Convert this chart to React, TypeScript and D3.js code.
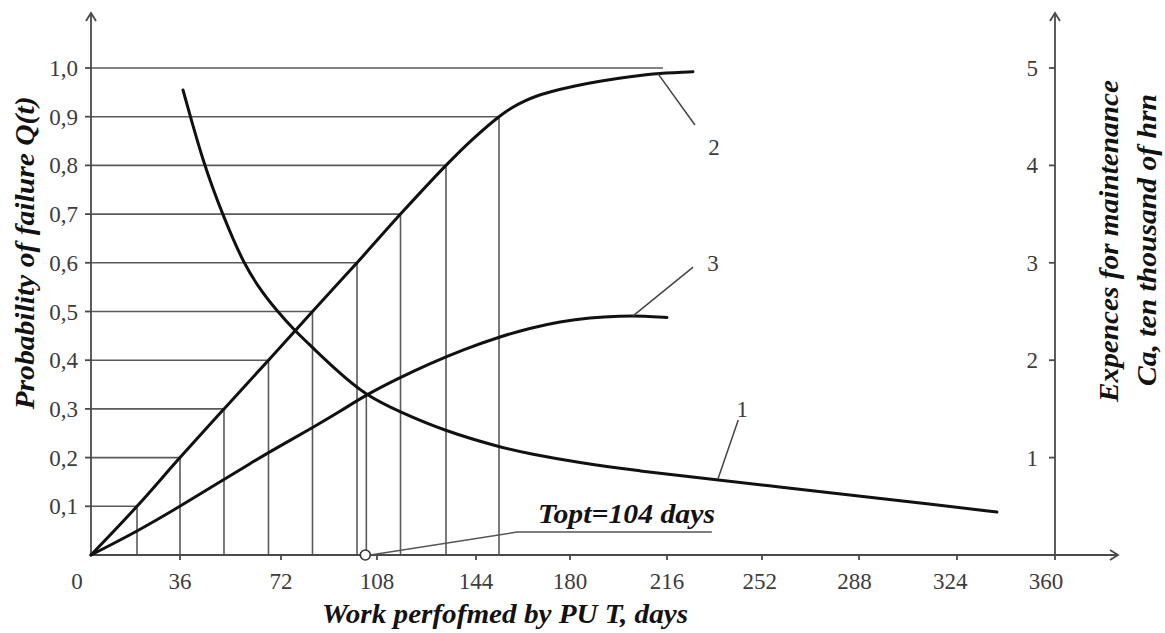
import React from "react";
import * as d3 from "d3";

const WIDTH = 1165;
const HEIGHT = 633;

// axis ticks
const dayTicks = [0, 36, 72, 108, 144, 180, 216, 252, 288, 324, 360];
const qTicks = [0.1, 0.2, 0.3, 0.4, 0.5, 0.6, 0.7, 0.8, 0.9, 1.0];
const costTicks = [1, 2, 3, 4, 5];

// curve 2 - probability of failure Q(t)
const q2Days = [0, 18.61, 36, 51.68, 67.54, 83.81, 100.5, 116.55, 133.09, 142.55, 152.81, 157.79, 162.77, 167.36, 172.34, 181.86, 191.13, 202.27, 213.4, 225.85];
const q2Vals = [0, 0.1, 0.2, 0.3, 0.4, 0.5, 0.6, 0.7, 0.8, 0.8524, 0.9, 0.9183, 0.9324, 0.9425, 0.9507, 0.963, 0.9727, 0.9819, 0.9885, 0.9922];

// curve 3
const q3Days = [0, 19.01, 35.6, 48.48, 60.95, 71.64, 83.63, 94.13, 103.5, 115.27, 127.27, 140.0, 152.81, 164.68, 176.17, 187.42, 198.56, 207.83, 216];
const q3Vals = [0, 0.0493, 0.0986, 0.1437, 0.1879, 0.2238, 0.2608, 0.2947, 0.3275, 0.3614, 0.3932, 0.423, 0.4476, 0.4661, 0.4795, 0.4877, 0.4908, 0.4908, 0.4877];

// curve 1 - expences for maintenance, ten thousand hrn
const c1Days = [37.07, 40.63, 44.2, 47.76, 51.33, 54.89, 58.46, 63.8, 70.57, 77.25, 83.63, 92.25, 103.5, 116.36, 132.73, 152.81, 164.68, 183.71, 205.98, 228.51, 258.68, 287.26, 314.08, 338.69];
const c1Vals = [4.774, 4.405, 4.055, 3.758, 3.491, 3.244, 3.018, 2.752, 2.505, 2.3, 2.136, 1.91, 1.643, 1.468, 1.273, 1.109, 1.037, 0.945, 0.862, 0.791, 0.698, 0.606, 0.524, 0.441];

const T_OPT = 104;
const T_OPT_Q = 0.3275;
const Q_MAX_LINE_DAY = 214.5;

const fmt = (v: number) => v.toFixed(1).replace(".", ",");

export default function App() {
  // hand drawn axis: tick spacing is not exactly uniform
  const x = d3
    .scaleLinear()
    .domain(dayTicks)
    .range([91, 180, 281, 377, 476, 570, 667, 762, 859, 957, 1055]);
  const yQ = d3.scaleLinear().domain([0, 1]).range([555, 68]);
  const yC = d3.scaleLinear().domain([0, 5]).range([555, 68]);

  const x0 = x(0);
  const y0 = yQ(0);
  const xR = x(360);

  const lineQ = d3
    .line<[number, number]>()
    .x((d) => x(d[0]))
    .y((d) => yQ(d[1]))
    .curve(d3.curveCatmullRom.alpha(0.5));
  const smoothQ = d3
    .line<[number, number]>()
    .x((d) => x(d[0]))
    .y((d) => yQ(d[1]))
    .curve(d3.curveBasis);
  const smoothC = d3
    .line<[number, number]>()
    .x((d) => x(d[0]))
    .y((d) => yC(d[1]))
    .curve(d3.curveBasis);

  const curve2 = q2Days.map((d, i) => [d, q2Vals[i]] as [number, number]);
  const curve3 = q3Days.map((d, i) => [d, q3Vals[i]] as [number, number]);
  const curve1 = c1Days.map((d, i) => [d, c1Vals[i]] as [number, number]);

  // points of curve 2 at the 0,1 ... 0,9 levels get drop lines
  const drops = curve2.filter((d) => d[1] > 0 && d[1] < 1 && qTicks.includes(d[1]));

  const gridColor = "#5a5a5a";
  const serif = "'Liberation Serif', 'Times New Roman', serif";
  const titleStyle = {
    fontFamily: serif,
    fontWeight: "bold" as const,
    fontStyle: "italic" as const,
    fill: "#121212",
  };

  const xt = x(T_OPT);
  const leadA: [number, number] = [x(159.7), yQ(0.047)];
  const leadB: [number, number] = [x(233), yQ(0.047)];

  return (
    <div style={{ position: "absolute", left: 0, top: 0 }}>
      <svg width={WIDTH} height={HEIGHT} style={{ display: "block", background: "#fff" }}>
        {/* drop lines from curve 2 to the axes */}
        <g stroke={gridColor} strokeWidth={1.6} fill="none">
          {drops.map(([d, q], i) => (
            <g key={i}>
              <line x1={x0} x2={x(d)} y1={yQ(q)} y2={yQ(q)} />
              <line x1={x(d)} x2={x(d)} y1={yQ(q)} y2={y0} />
            </g>
          ))}
          <line x1={x0} x2={x(Q_MAX_LINE_DAY)} y1={yQ(1)} y2={yQ(1)} />
          <line x1={xt} x2={xt} y1={yQ(T_OPT_Q)} y2={y0} />
        </g>

        {/* axes */}
        <g stroke="#4a4a4a" strokeWidth={1.8} fill="none">
          <line x1={x0} x2={x0} y1={y0} y2={13} />
          <polyline points={`${x0 - 5},21 ${x0},13 ${x0 + 5},21`} />
          <line x1={x0} x2={1118} y1={y0} y2={y0} />
          <polyline points={`1110,${y0 - 5} 1118,${y0} 1110,${y0 + 5}`} />
          <line x1={xR} x2={xR} y1={y0 + 5} y2={13} />
          <polyline points={`${xR - 5},21 ${xR},13 ${xR + 5},21`} />
          {qTicks.map((t) => (
            <line key={t} x1={x0 - 6} x2={x0} y1={yQ(t)} y2={yQ(t)} />
          ))}
          {costTicks.map((t) => (
            <line key={t} x1={xR - 6} x2={xR} y1={yC(t)} y2={yC(t)} />
          ))}
          {dayTicks.slice(1, 10).map((t) => (
            <line key={t} x1={x(t)} x2={x(t)} y1={y0} y2={y0 + 5} />
          ))}
        </g>

        {/* tick labels */}
        <g fontFamily={serif} fontSize={23} fill="#3c3c3c">
          {qTicks.map((t) => (
            <text key={t} x={78} y={yQ(t)} dy="0.35em" textAnchor="end">
              {fmt(t)}
            </text>
          ))}
          {costTicks.map((t) => (
            <text key={t} x={1038} y={yC(t)} dy="0.35em" textAnchor="end">
              {t}
            </text>
          ))}
          {dayTicks.map((t) => (
            <text
              key={t}
              x={t === 0 ? 77 : x(t) - Math.max(0, (t - 216) / 16)}
              y={589}
              textAnchor="middle"
            >
              {t}
            </text>
          ))}
        </g>

        {/* curves */}
        <g stroke="#111" strokeWidth={3} fill="none" strokeLinecap="round">
          <path d={lineQ(curve2) ?? ""} />
          <path d={smoothQ(curve3) ?? ""} />
          <path d={smoothC(curve1) ?? ""} />
        </g>

        {/* curve number leaders */}
        <g stroke="#444" strokeWidth={1.5}>
          <line x1={x(212.7)} y1={yQ(0.988)} x2={x(226.6)} y2={yQ(0.883)} />
          <line x1={x(203.4)} y1={yQ(0.491)} x2={x(225.9)} y2={yQ(0.591)} />
          <line x1={x(235.3)} y1={yC(0.78)} x2={x(243)} y2={yC(1.386)} />
        </g>
        <g fontFamily={serif} fontSize={23} fill="#3c3c3c" textAnchor="middle">
          <text x={x(233.8)} y={yQ(0.838)} dy="0.35em">2</text>
          <text x={x(233.4)} y={yQ(0.6)} dy="0.35em">3</text>
          <text x={x(244.5)} y={yC(1.5)} dy="0.35em">1</text>
        </g>

        {/* Topt marker */}
        <polyline
          points={`${xt + 4},${y0} ${leadA[0]},${leadA[1]} ${leadB[0]},${leadB[1]}`}
          fill="none"
          stroke="#555"
          strokeWidth={1.5}
        />
        <circle cx={xt - 1} cy={y0} r={5} fill="#fff" stroke="#333" strokeWidth={1.6} />
        <text x={538} y={523} fontSize={28} textLength={177} lengthAdjust="spacingAndGlyphs" {...titleStyle}>
          Topt=104 days
        </text>

        {/* axis titles */}
        <text x={322} y={623} fontSize={27} textLength={366} lengthAdjust="spacingAndGlyphs" {...titleStyle}>
          Work perfofmed by PU T, days
        </text>
        <text
          transform={`translate(34, 253) rotate(-90)`}
          textAnchor="middle"
          fontSize={28}
          textLength={313}
          lengthAdjust="spacingAndGlyphs"
          {...titleStyle}
        >
          Probability of failure Q(t)
        </text>
        <text
          transform={`translate(1118, 241) rotate(-90)`}
          textAnchor="middle"
          fontSize={28}
          textLength={322}
          lengthAdjust="spacingAndGlyphs"
          {...titleStyle}
        >
          Expences for maintenance
        </text>
        <text
          transform={`translate(1156, 240) rotate(-90)`}
          textAnchor="middle"
          fontSize={28}
          textLength={292}
          lengthAdjust="spacingAndGlyphs"
          {...titleStyle}
        >
          Ca, ten thousand of hrn
        </text>
      </svg>
    </div>
  );
}
